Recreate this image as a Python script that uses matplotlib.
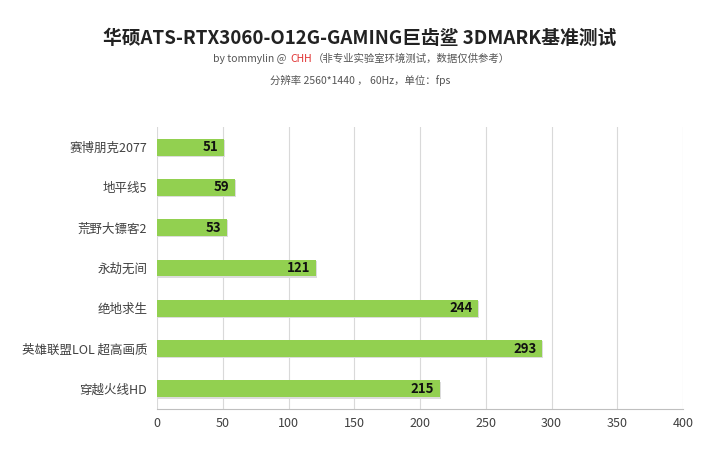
import matplotlib.pyplot as plt

plt.rcParams['font.family'] = ['Noto Sans CJK SC', 'DejaVu Sans']

games = ['赛博朋克2077', '地平线5', '荒野大镖客2', '永劫无间', '绝地求生', '英雄联盟LOL 超高画质', '穿越火线HD']
fps = [51, 59, 53, 121, 244, 293, 215]
ticks = [0, 50, 100, 150, 200, 250, 300, 350, 400]

fig = plt.figure(figsize=(7.2, 4.62), dpi=100)
ax = fig.add_axes([157 / 720, 1 - 409 / 462, (683 - 157) / 720, (409 - 127) / 462])

ypos = list(range(len(games)))[::-1]
# shadow
ax.barh([y - 0.03 for y in ypos], [v + 0.8 for v in fps], height=0.42, color='#dcdcdc', zorder=2)
ax.barh(ypos, fps, height=0.42, color='#92d050', zorder=3)
for y, v in zip(ypos, fps):
    ax.text(v - 4, y, str(v), ha='right', va='center', fontsize=9.5,
            fontweight='bold', color='#111111', zorder=4)

ax.set_xlim(0, 400)
ax.set_ylim(-0.5, len(games) - 0.5)
ax.set_xticks(ticks)
ax.set_xticklabels([str(t) for t in ticks])
ax.set_yticks(ypos)
ax.set_yticklabels(games)
ax.tick_params(axis='both', length=0, labelsize=9, colors='#404040')
ax.tick_params(axis='x', pad=6)
ax.tick_params(axis='y', pad=7)
ax.grid(axis='x', color='#d9d9d9', linewidth=0.8, zorder=0)
for s in ['top', 'right', 'left']:
    ax.spines[s].set_visible(False)
ax.spines['bottom'].set_color('#bfbfbf')

fig.text(0.5, 1 - 38 / 462, '华硕ATS-RTX3060-O12G-GAMING巨齿鲨 3DMARK基准测试',
         ha='center', va='center', fontsize=13.5, fontweight='bold', color='#222222')
# subtitle with red CHH, pieces chained one after another
t1 = fig.text(213 / 720, 1 - 59 / 462, 'by tommylin @', ha='left', va='center', fontsize=7.5, color='#555555')
t2 = ax.annotate('CHH', xy=(1, 0.5), xycoords=t1, xytext=(3, 0), textcoords='offset points',
                 ha='left', va='center', fontsize=7.5, color='#e03030', annotation_clip=False)
ax.annotate('（非专业实验室环境测试，数据仅供参考）', xy=(1, 0.5), xycoords=t2, xytext=(0, 0),
            textcoords='offset points', ha='left', va='center', fontsize=7.5, color='#555555',
            annotation_clip=False)
fig.text(0.5, 1 - 80 / 462, '分辨率 2560*1440 ， 60Hz，单位：fps', ha='center', va='center',
         fontsize=7.5, color='#555555')

fig.savefig('out.png', dpi=100, facecolor='white')
